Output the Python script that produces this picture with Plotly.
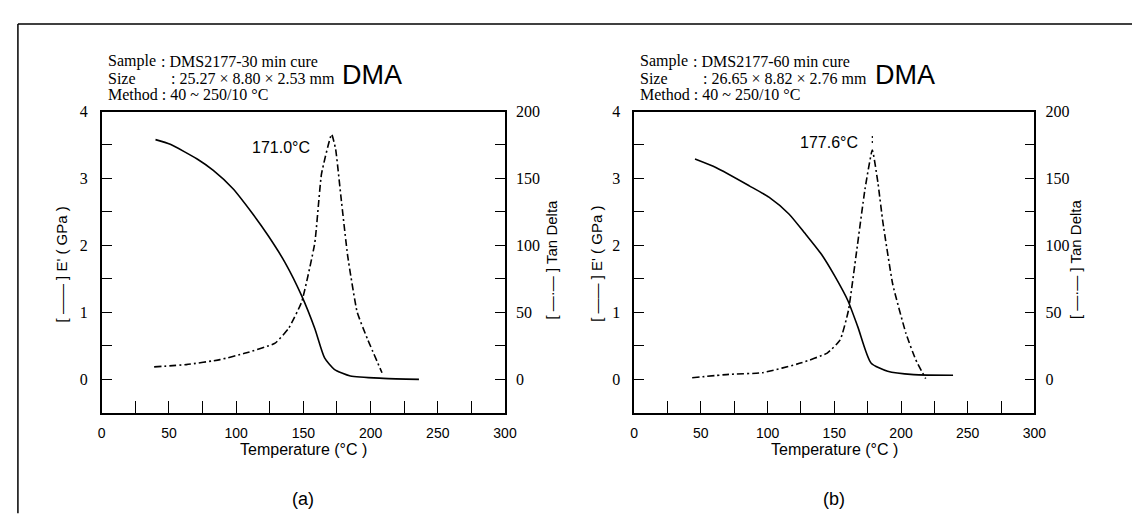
import plotly.graph_objects as go

# ---- data ----
# panel (a): 30 min cure
a_E_T = [40, 51, 71, 83, 97.5, 112, 124, 136.5, 148.7, 158.5, 165.8, 173, 185, 209.5, 236]
a_E_val = [3.58, 3.51, 3.29, 3.12, 2.85, 2.48, 2.14, 1.74, 1.25, 0.76, 0.32, 0.15, 0.05, 0.015, 0.0]
a_tan_T = [39, 63, 88, 107, 129, 139, 148.7, 158.5, 163.5, 171, 174, 178, 183, 190, 197.5, 208.5]
a_tan_val = [9.3, 11, 14.7, 19.6, 27, 38, 57.7, 101.8, 153.4, 183, 172, 136, 92, 50.3, 30.6, 4.9]

# panel (b): 60 min cure
b_E_T = [45.6, 61.6, 86.3, 101, 116, 128, 140.6, 150.4, 160.3, 167.7, 177.5, 190, 209.5, 239]
b_E_val = [3.29, 3.16, 2.89, 2.72, 2.47, 2.18, 1.86, 1.54, 1.17, 0.78, 0.245, 0.12, 0.07, 0.06]
b_tan_T = [43.5, 71, 96, 125.4, 144.7, 154.4, 160.6, 166.7, 173, 178.5, 182.7, 186.4, 193.8, 203.7, 211, 218.5]
b_tan_val = [1.2, 3.7, 4.9, 12.3, 19.6, 29.4, 51.4, 95.4, 142, 171.3, 146.8, 117.5, 71, 34.3, 14.7, 0.5]
b_peak_mark_T = [178.5, 178.5]
b_peak_mark_val = [176.5, 184]

peak_labels = ["171.0°C", "177.6°C"]
peak_label_pos = [(133, 3.47), (146, 3.54)]

header_sample = ["Sample", "Sample"]
header_sample_val = [": DMS2177-30 min cure", ": DMS2177-60 min cure"]
header_size = ["Size", "Size"]
header_size_val = [": 25.27 × 8.80 × 2.53 mm", ": 26.65 × 8.82 × 2.76 mm"]
header_method = ["Method : 40 ~ 250/10 °C", "Method : 40 ~ 250/10 °C"]
panel_tags = ["(a)", "(b)"]
x_title = "Temperature (°C )"
y_left_title = "[ —— ] E' ( GPa )"
y_right_title = "[ —·— ] Tan Delta"

W, H = 1140, 521
def px(x):
    return x / W
def py(y):
    return 1 - y / H

FRAME_TOP, FRAME_BOT = 97, 403
panels = [(91, 500), (631, 1037)]
ytitle_left_x = [50, 592]
ytitle_right_x = [547, 1078]

fig = go.Figure()
solid = dict(color="black", width=1.6)
dashdot = dict(color="black", width=1.6, dash="7px,3px,2px,3px")

fig.add_trace(go.Scatter(x=a_E_T, y=a_E_val, mode="lines", line=dict(shape="spline", smoothing=0.6, **solid), xaxis="x", yaxis="y"))
fig.add_trace(go.Scatter(x=a_tan_T, y=a_tan_val, mode="lines", line=dict(shape="spline", smoothing=0.4, **dashdot), xaxis="x", yaxis="y2"))
fig.add_trace(go.Scatter(x=b_E_T, y=b_E_val, mode="lines", line=dict(shape="spline", smoothing=0.6, **solid), xaxis="x2", yaxis="y3"))
fig.add_trace(go.Scatter(x=b_tan_T, y=b_tan_val, mode="lines", line=dict(shape="spline", smoothing=0.4, **dashdot), xaxis="x2", yaxis="y4"))
fig.add_trace(go.Scatter(x=b_peak_mark_T, y=b_peak_mark_val, mode="lines", line=dict(color="black", width=1.2, dash="2px,3px"), xaxis="x2", yaxis="y4"))

tick_font = dict(family="Liberation Serif", size=16, color="black")
xtick_font = dict(family="Liberation Sans Narrow, Liberation Sans", size=14, color="black")

def xax(domain, anchor):
    return dict(domain=domain, anchor=anchor, range=[0, 300], dtick=50, tick0=0,
                ticks="inside", ticklen=12, tickwidth=1.4, tickcolor="black",
                minor=dict(ticks="inside", dtick=25, ticklen=12, tickwidth=1.4, tickcolor="black"),
                showline=True, mirror=True, linecolor="black", linewidth=1.6,
                showgrid=False, zeroline=False, tickfont=xtick_font, ticklabelstandoff=7)

def yax_left(domain, anchor):
    return dict(domain=domain, anchor=anchor, range=[-0.5, 4], dtick=1, tick0=0,
                ticks="inside", ticklen=10, tickwidth=1.4, tickcolor="black",
                minor=dict(ticks="inside", dtick=0.5, ticklen=10, tickwidth=1.4, tickcolor="black"),
                showline=True, mirror=True, linecolor="black", linewidth=1.6,
                showgrid=False, zeroline=False, tickfont=tick_font, ticklabelstandoff=9)

def yax_right(overlay, anchor):
    return dict(overlaying=overlay, anchor=anchor, side="right", range=[-25, 200], dtick=50, tick0=0,
                ticks="inside", ticklen=10, tickwidth=1.4, tickcolor="black",
                minor=dict(ticks="inside", dtick=25, ticklen=10, tickwidth=1.4, tickcolor="black"),
                showline=True, linecolor="black", linewidth=1.6,
                showgrid=False, zeroline=False, tickfont=tick_font, ticklabelstandoff=6)

ydom = [py(FRAME_BOT), py(FRAME_TOP)]
fig.update_layout(
    width=W, height=H, margin=dict(l=0, r=0, t=0, b=0),
    paper_bgcolor="white", plot_bgcolor="white", showlegend=False,
    xaxis=xax([px(panels[0][0]), px(panels[0][1])], "y"),
    yaxis=yax_left(ydom, "x"),
    yaxis2=yax_right("y", "x"),
    xaxis2=xax([px(panels[1][0]), px(panels[1][1])], "y3"),
    yaxis3=yax_left(ydom, "x2"),
    yaxis4=yax_right("y3", "x2"),
)

ann = []
serif = dict(family="Liberation Serif", size=16, color="black")
sans = dict(family="Liberation Sans", size=15, color="black")
for i, (x0, x1) in enumerate(panels):
    hx = x0 + 4
    ann.append(dict(x=px(hx), y=py(46), text=header_sample[i], xanchor="left", yanchor="middle", font=serif))
    ann.append(dict(x=px(hx + 54), y=py(46), text=header_sample_val[i], xanchor="left", yanchor="middle", font=serif))
    ann.append(dict(x=px(hx), y=py(63), text=header_size[i], xanchor="left", yanchor="middle", font=serif))
    ann.append(dict(x=px(hx + 64), y=py(63), text=header_size_val[i], xanchor="left", yanchor="middle", font=serif))
    ann.append(dict(x=px(hx), y=py(80), text=header_method[i], xanchor="left", yanchor="middle", font=serif))
    ann.append(dict(x=px(x0 + 242), y=py(60), text="DMA", xanchor="left", yanchor="middle",
                    font=dict(family="Liberation Sans", size=27, color="black")))
    cx = (x0 + x1) / 2
    ann.append(dict(x=px(cx), y=py(440), text=x_title, xanchor="center", yanchor="middle",
                    font=dict(family="Liberation Sans", size=16, color="black")))
    ann.append(dict(x=px(cx), y=py(491), text=panel_tags[i], xanchor="center", yanchor="middle",
                    font=dict(family="Liberation Sans", size=18, color="black")))
    ann.append(dict(x=px(ytitle_left_x[i]), y=py(252), text=y_left_title, textangle=-90, xanchor="center",
                    yanchor="middle", font=sans))
    ann.append(dict(x=px(ytitle_right_x[i]), y=py(247), text=y_right_title, textangle=-90, xanchor="center",
                    yanchor="middle", font=sans))
    xr = "x" if i == 0 else "x2"
    yr = "y" if i == 0 else "y3"
    ann.append(dict(x=peak_label_pos[i][0], y=peak_label_pos[i][1], xref=xr, yref=yr, text=peak_labels[i],
                    showarrow=False, xanchor="center", yanchor="middle",
                    font=dict(family="Liberation Sans", size=16, color="black")))

for a in ann:
    a.setdefault("xref", "paper")
    a.setdefault("yref", "paper")
    a.setdefault("showarrow", False)
fig.update_layout(annotations=ann)

# page border lines (top and left)
fig.add_shape(type="line", xref="paper", yref="paper", x0=px(6), x1=1, y0=py(8), y1=py(8),
              line=dict(color="black", width=1.5))
fig.add_shape(type="line", xref="paper", yref="paper", x0=px(6), x1=px(6), y0=py(8), y1=py(505),
              line=dict(color="black", width=1.5))

fig.write_html("out.html")
